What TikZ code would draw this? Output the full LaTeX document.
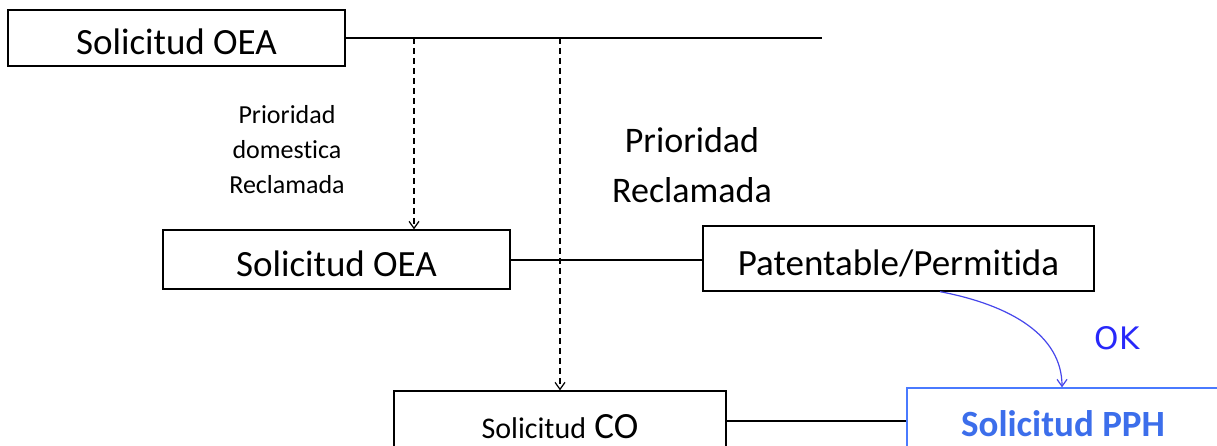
\documentclass[tikz,border=0pt]{standalone}
\usepackage{fontspec}
\setmainfont{Carlito}[Ligatures={NoCommon}]
\newfontfamily\okfont{DejaVu Sans}
\usetikzlibrary{arrows.meta}
\definecolor{pphblue}{RGB}{74,122,255}
\definecolor{pphtext}{RGB}{60,110,235}
\definecolor{okblue}{RGB}{40,40,250}
\definecolor{curveblue}{RGB}{70,70,235}
\tikzset{
  box/.style={draw,line width=1.3pt,inner sep=0pt,text height=34pt,text depth=0pt,
    font=\fontsize{37}{44}\selectfont},
  note/.style={align=center},
}
\begin{document}
\begin{tikzpicture}[x=1pt,y=-1pt,line width=1.2pt,>={Straight Barb[length=7pt,width=10pt]}]
\useasboundingbox (0,0) rectangle (1217,446);
\clip (0,0) rectangle (1217,446);
% boxes
\node[box,minimum width=337pt,minimum height=56pt] (oea1) at (176.5,38) {Solicitud OEA};
\node[box,minimum width=347pt,minimum height=59pt] (oea2) at (336.5,259.5) {Solicitud OEA};
\node[box,minimum width=391pt,minimum height=65pt] (pat) at (898.5,258.5) {Patentable/Permitida};
\node[box,minimum width=332pt,minimum height=60pt] (co) at (560,421) {{\fontsize{30}{36}\selectfont Solicitud} CO};
\node[box,draw=pphblue,text=pphtext,minimum width=312pt,minimum height=62pt,
  font=\fontsize{37}{44}\selectfont\bfseries] (pph) at (1063,419) {Solicitud PPH};
% lines
\coordinate (end) at (822,38);
\coordinate (d1) at (414,38);
\coordinate (d2) at (560,38);
\draw (oea1.east |- end) -- (end);
\draw[dash pattern=on 6pt off 4pt,->] (d1) -- (d1 |- oea2.north);
\draw[dash pattern=on 6pt off 4pt,->] (d2) -- (co.north);
\draw (oea2.east |- 0,260) -- (pat.west |- 0,260);
\draw (co.east) -- (co.east -| pph.west);
\draw[curveblue,->] (pat.south) ++(41.5,0) .. controls (1010,305) and (1062,335) .. (pph.north -| 1062,0);
% labels
\node[note,font=\fontsize{26}{35}\selectfont] (pd) at (287,150) {Prioridad\\domestica\\Reclamada};
\node[note,font=\fontsize{36}{50}\selectfont] (pr) at (692,165) {Prioridad\\Reclamada};
\node[text=okblue,font=\okfont\fontsize{31}{34}\selectfont] (ok) at (1117,338) {OK};
\end{tikzpicture}
\end{document}
